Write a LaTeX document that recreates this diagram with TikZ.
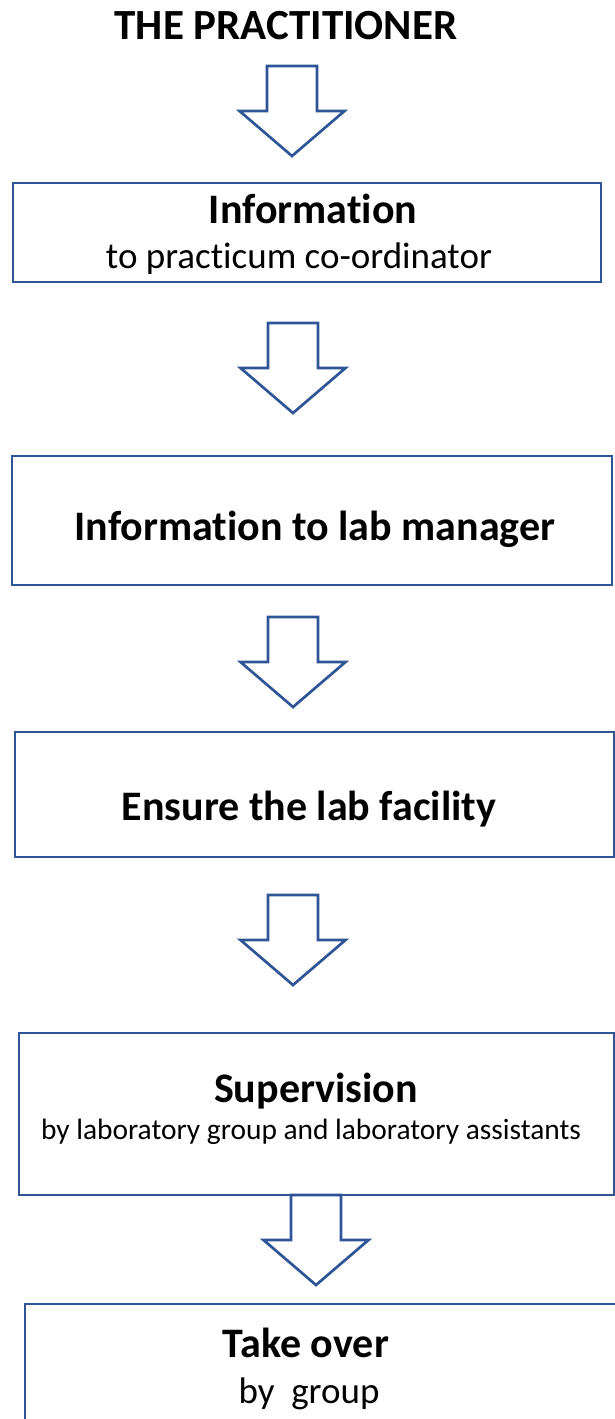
\documentclass[tikz,border=0pt]{standalone}
\usepackage{fontspec}
\setmainfont{Carlito}[Ligatures=NoCommon]
\definecolor{outline}{HTML}{2F5597}
\tikzset{
  pics/downarrow/.style={code={
    \draw[blockarrow] (-25,0) -- (25,0) -- (25,45) -- (52.5,45) -- (0,90)
      -- (-52.5,45) -- (-25,45) -- cycle;}}}
\begin{document}
\begin{tikzpicture}[x=1pt,y=-1pt,
  box/.style={draw=outline, line width=2.7pt, fill=white, inner sep=0pt},
  blockarrow/.style={draw=outline, line width=2.7pt, fill=white, line join=miter},
  headtext/.style={font=\fontsize{42}{50}\selectfont\bfseries, anchor=base, inner sep=0pt},
  titletext/.style={font=\fontsize{43}{50}\selectfont\bfseries, anchor=base, inner sep=0pt},
  subtext/.style={font=\fontsize{37}{44}\selectfont, anchor=base, inner sep=0pt},
  smalltext/.style={font=\fontsize{29.4}{35}\selectfont, anchor=base, inner sep=0pt}]
\useasboundingbox (0,0) rectangle (615,1419);
\clip (0,0) rectangle (615,1419);
\fill[white] (0,0) rectangle (615,1419);

% title
\node[titletext] (title) at (286,39) {THE PRACTITIONER};

% boxes
\node[box, minimum width=588pt, minimum height=99pt] (b1) at (307,232.5) {};
\node[box, minimum width=600pt, minimum height=129pt] (b2) at (312,520.5) {};
\node[box, minimum width=599pt, minimum height=125pt] (b3) at (314.5,794.5) {};
\node[box, minimum width=595pt, minimum height=162pt] (b4) at (316.5,1114) {};
\node[box, minimum width=600pt, minimum height=136pt] (b5) at (325,1372) {};

% texts
\node[headtext] (t1a) at (313,223) {Information};
\node[subtext] (t1b) at (299,268) {to practicum co-ordinator};
\node[headtext] (t2) at (315,540) {Information to lab manager};
\node[headtext] (t3) at (309,820) {Ensure the lab facility};
\node[headtext] (t4a) at (316,1102) {Supervision};
\node[smalltext] (t4b) at (311,1139) {by laboratory group and laboratory assistants};
\node[headtext] (t5a) at (306,1357) {Take over};
\node[subtext] (t5b) at (309,1403) {by\ \ group};

% block arrows
\pic at (292,66) {downarrow};
\pic at (293,323) {downarrow};
\pic at (293,617) {downarrow};
\pic at (293,895) {downarrow};
\pic at (316,1195) {downarrow};
\end{tikzpicture}
\end{document}
